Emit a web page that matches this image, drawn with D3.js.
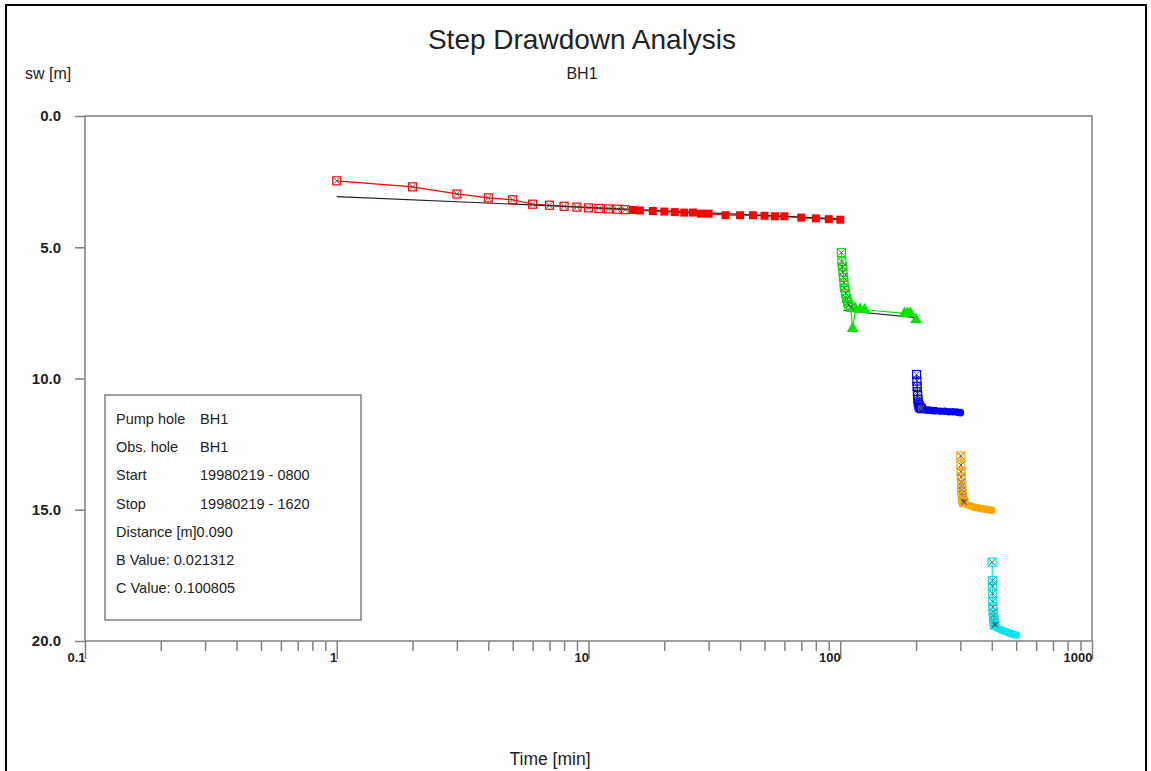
<!DOCTYPE html>
<html>
<head>
<meta charset="utf-8">
<script src="https://cdn.jsdelivr.net/npm/d3@7"></script>
<style>
  body { margin: 0; background: #fff; }
  #chart { width: 1151px; height: 771px; }
  text { font-family: "Liberation Sans", Arial, sans-serif; fill: #222; }
  .tickLabel { font-size: 13px; font-weight: bold; }
  .yLabel { font-size: 15px; font-weight: bold; }
  .legendText { font-size: 14.5px; }
</style>
</head>
<body>
<div id="chart"></div>
<script>
// step 1 (red)
const step1EarlyT = [1, 2, 3, 4, 5, 6, 7, 8, 9, 10, 11, 12, 13, 14];
const step1EarlySw = [2.47, 2.70, 2.97, 3.12, 3.19, 3.36, 3.40, 3.44, 3.47, 3.50, 3.52, 3.54, 3.55, 3.57];
const step1LateT = [15, 16, 18, 20, 22, 24, 26, 28, 30, 35, 40, 45, 50, 55, 60, 70, 80, 90, 100];
const step1LateSw = [3.58, 3.60, 3.62, 3.64, 3.66, 3.68, 3.68, 3.72, 3.72, 3.78, 3.78, 3.78, 3.80, 3.82, 3.82, 3.87, 3.90, 3.93, 3.95];
const step1FitT = [1, 10, 100];
const step1FitSw = [3.07, 3.48, 3.92];

// step 2 (green)
const step2EarlyT = [101, 101.5, 102, 102.5, 103, 103.5, 104, 105, 106, 107, 108, 110];
const step2EarlySw = [5.2, 5.55, 5.75, 5.95, 6.15, 6.35, 6.55, 6.75, 6.95, 7.1, 7.2, 7.28];
const step2LateT = [112, 115, 120, 125, 180, 185, 190, 200];
const step2LateSw = [8.1, 7.35, 7.36, 7.38, 7.52, 7.52, 7.52, 7.76];
const step2FitT = [103, 200];
const step2FitSw = [7.41, 7.68];

// step 3 (blue)
const step3EarlyT = [201, 201.5, 202, 202.5, 203, 203.5, 204, 205, 206, 207, 208, 210];
const step3EarlySw = [9.85, 10.1, 10.3, 10.5, 10.65, 10.8, 10.9, 11.0, 11.05, 11.1, 11.12, 11.15];
const step3LateT = [212, 215, 220, 225, 230, 235, 240, 250, 260, 270, 280, 290, 300];
const step3LateSw = [11.15, 11.18, 11.2, 11.2, 11.22, 11.23, 11.23, 11.25, 11.25, 11.27, 11.27, 11.28, 11.3];
const step3FitT = [204, 300];
const step3FitSw = [11.12, 11.3];

// step 4 (orange)
const step4EarlyT = [301, 301.5, 302, 302.5, 303, 303.5, 304, 305, 306, 307, 308, 310];
const step4EarlySw = [12.95, 13.3, 13.55, 13.75, 13.95, 14.1, 14.25, 14.4, 14.5, 14.6, 14.67, 14.72];
const step4LateT = [315, 320, 330, 340, 350, 360, 370, 380, 390, 400];
const step4LateSw = [14.78, 14.82, 14.86, 14.9, 14.92, 14.95, 14.97, 14.98, 15.0, 15.02];
const step4FitT = [305, 400];
const step4FitSw = [14.7, 15.0];

// step 5 (cyan)
const step5EarlyT = [401, 402, 402.5, 403, 403.5, 404, 405, 406, 407, 408, 410, 412];
const step5EarlySw = [17.0, 17.7, 17.9, 18.2, 18.5, 18.7, 18.9, 19.05, 19.15, 19.25, 19.35, 19.4];
const step5LateT = [415, 420, 430, 440, 450, 460, 470, 480, 490, 500];
const step5LateSw = [19.45, 19.5, 19.55, 19.6, 19.63, 19.66, 19.7, 19.72, 19.75, 19.77];
const step5FitT = [410, 500];
const step5FitSw = [19.38, 19.78];

const xMajor = [0.1, 1, 10, 100, 1000];
const yTicks = [0, 5, 10, 15, 20];

const legendLabels = ["Pump hole", "Obs. hole", "Start", "Stop", "Distance [m]0.090", "B Value: 0.021312", "C Value: 0.100805"];
const legendValues = ["BH1", "BH1", "19980219 - 0800", "19980219 - 1620", "", "", ""];

const steps = [
  {color: "#ff0000", late: "square", earlyT: step1EarlyT, earlySw: step1EarlySw, lateT: step1LateT, lateSw: step1LateSw, fitT: step1FitT, fitSw: step1FitSw},
  {color: "#00e600", late: "triangle", earlyT: step2EarlyT, earlySw: step2EarlySw, lateT: step2LateT, lateSw: step2LateSw, fitT: step2FitT, fitSw: step2FitSw},
  {color: "#0000ff", late: "circle", earlyT: step3EarlyT, earlySw: step3EarlySw, lateT: step3LateT, lateSw: step3LateSw, fitT: step3FitT, fitSw: step3FitSw},
  {color: "#ffa500", late: "circle", earlyT: step4EarlyT, earlySw: step4EarlySw, lateT: step4LateT, lateSw: step4LateSw, fitT: step4FitT, fitSw: step4FitSw},
  {color: "#00e5ee", late: "circle", earlyT: step5EarlyT, earlySw: step5EarlySw, lateT: step5LateT, lateSw: step5LateSw, fitT: step5FitT, fitSw: step5FitSw}
];

//dims
const width = 1151;
const height = 771;
const svg = d3.select("#chart")
  .append("svg")
  .attr("width", width)
  .attr("height", height);

const margin = {top: 116, left: 85, right: 59, bottom: 130};

//scales
const xScale = d3.scaleLog()
  .domain([0.1, 1000])
  .range([margin.left, width - margin.right]);
const yScale = d3.scaleLinear()
  .domain([0, 20])
  .range([margin.top, height - margin.bottom]);

//outer frame
svg.append("path")
  .attr("d", `M6,771 V5 H1146 V771`)
  .attr("fill", "none")
  .attr("stroke", "#000")
  .attr("stroke-width", 2);

//titles
svg.append("text")
  .attr("x", 582).attr("y", 49)
  .attr("text-anchor", "middle")
  .style("font-size", "28px")
  .text("Step Drawdown Analysis");
svg.append("text")
  .attr("x", 582).attr("y", 79)
  .attr("text-anchor", "middle")
  .style("font-size", "16px")
  .text("BH1");
svg.append("text")
  .attr("x", 25).attr("y", 79)
  .style("font-size", "16px")
  .text("sw [m]");
svg.append("text")
  .attr("x", 550).attr("y", 765)
  .attr("text-anchor", "middle")
  .style("font-size", "17.5px")
  .text("Time [min]");

//plot frame
svg.append("rect")
  .attr("x", margin.left)
  .attr("y", margin.top)
  .attr("width", xScale(1000) - xScale(0.1))
  .attr("height", yScale(20) - yScale(0))
  .attr("fill", "none")
  .attr("stroke", "#808080")
  .attr("stroke-width", 1.5);

//x axis: minor and major ticks
const minorTicks = [];
[0.1, 1, 10, 100].forEach(function(d) {
  for (let k = 2; k <= 9; k++) minorTicks.push(d * k);
});
const xMinorAxis = svg.append("g")
  .attr("transform", `translate(0,${yScale(20)})`)
  .call(d3.axisBottom(xScale).tickValues(minorTicks).tickSize(10).tickFormat(""));
const xMajorAxis = svg.append("g")
  .attr("transform", `translate(0,${yScale(20)})`)
  .call(d3.axisBottom(xScale).tickValues(xMajor).tickSize(18).tickFormat(function(d) { return d >= 1 ? d3.format("d")(d) : "0.1"; }));
[xMinorAxis, xMajorAxis].forEach(function(g) {
  g.select(".domain").remove();
  g.selectAll("line").attr("stroke", "#808080").attr("stroke-width", 1.5);
});
xMajorAxis.selectAll("text")
  .attr("class", "tickLabel")
  .attr("text-anchor", "end")
  .attr("x", 0)
  .attr("y", 12)
  .attr("dy", "0.71em")
  .attr("fill", "#222");

//y axis
const yAxis = svg.append("g")
  .attr("transform", `translate(${margin.left},0)`)
  .call(d3.axisLeft(yScale).tickValues(yTicks).tickSize(10).tickFormat(d3.format(".1f")));
yAxis.select(".domain").remove();
yAxis.selectAll("line").attr("stroke", "#808080").attr("stroke-width", 1.5);
yAxis.selectAll("text")
  .attr("class", "yLabel")
  .attr("x", -24)
  .attr("fill", "#222");

//legend box
const legend = svg.append("g");
legend.append("rect")
  .attr("x", 105).attr("y", 395)
  .attr("width", 256).attr("height", 225)
  .attr("fill", "#fff")
  .attr("stroke", "#808080")
  .attr("stroke-width", 1.5);
legend.selectAll(".lbl")
  .data(legendLabels)
  .enter()
  .append("text")
    .attr("class", "legendText")
    .attr("x", 116)
    .attr("y", function(d, i) { return 424 + i * 28.2; })
    .text(function(d) { return d; });
legend.selectAll(".val")
  .data(legendValues)
  .enter()
  .append("text")
    .attr("class", "legendText")
    .attr("x", 200)
    .attr("y", function(d, i) { return 424 + i * 28.2; })
    .text(function(d) { return d; });

//series
const line = d3.line()
  .x(function(d) { return xScale(d.t); })
  .y(function(d) { return yScale(d.sw); });

steps.forEach(function(s) {
  const early = s.earlyT.map(function(t, i) { return {t: t, sw: s.earlySw[i]}; });
  const late = s.lateT.map(function(t, i) { return {t: t, sw: s.lateSw[i]}; });
  const fit = s.fitT.map(function(t, i) { return {t: t, sw: s.fitSw[i]}; });
  const g = svg.append("g");

  //data line
  g.append("path")
    .datum(early.concat(late))
    .attr("d", line)
    .attr("fill", "none")
    .attr("stroke", s.color)
    .attr("stroke-width", 1.2);

  //fitted line
  g.append("path")
    .datum(fit)
    .attr("d", line)
    .attr("fill", "none")
    .attr("stroke", "#222")
    .attr("stroke-width", 1.2);

  //late markers
  let sym = d3.symbolCircle, size = 45;
  if (s.late === "square") { sym = d3.symbolSquare; size = 64; }
  if (s.late === "triangle") { sym = d3.symbolTriangle; size = 60; }
  g.selectAll(".late")
    .data(late)
    .enter()
    .append("path")
      .attr("transform", function(d) { return `translate(${xScale(d.t)},${yScale(d.sw)})`; })
      .attr("d", d3.symbol().type(sym).size(size))
      .attr("fill", s.color);

  //early markers: hollow square with a cross
  const em = g.selectAll(".early")
    .data(early)
    .enter()
    .append("g")
      .attr("transform", function(d) { return `translate(${xScale(d.t)},${yScale(d.sw)})`; });
  em.append("rect")
    .attr("x", -4).attr("y", -4)
    .attr("width", 8).attr("height", 8)
    .attr("fill", "none")
    .attr("stroke", s.color)
    .attr("stroke-width", 1.2);
  em.append("path")
    .attr("d", "M-3,-3L3,3M-3,3L3,-3")
    .attr("stroke", "#555")
    .attr("stroke-width", 1);
});
</script>
</body>
</html>
